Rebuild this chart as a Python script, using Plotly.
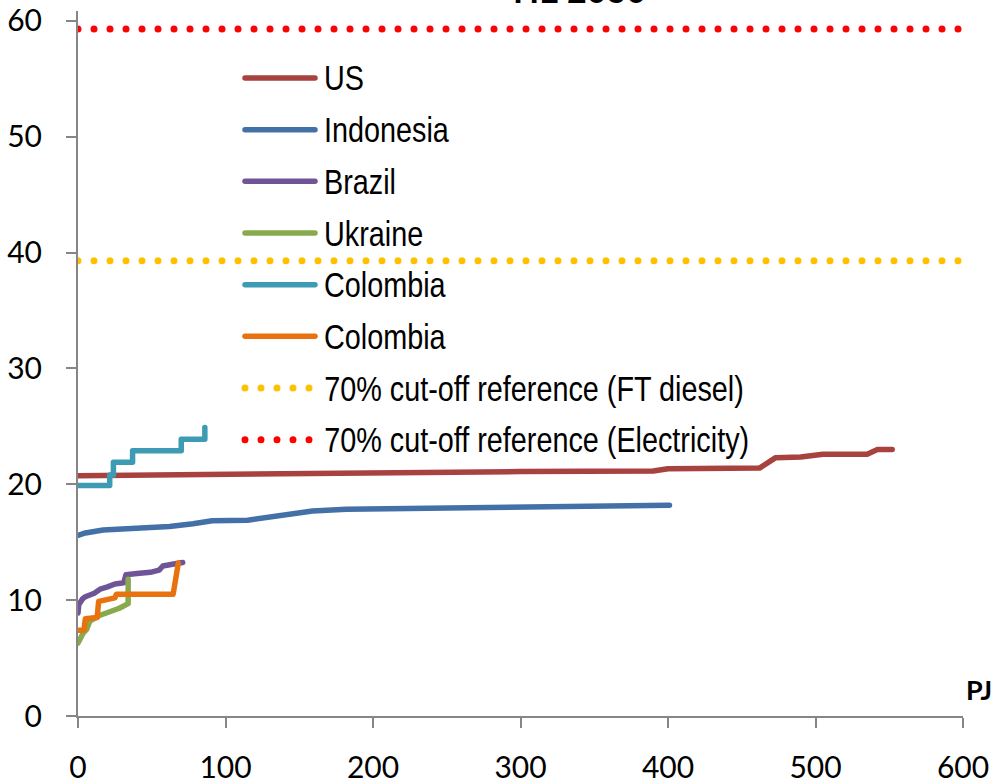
import plotly.graph_objects as go

# Cost-supply curves (x: cumulative supply in PJ, y: cost)
us_x = [0, 40, 120, 200, 300, 390, 400, 462, 473, 490, 505, 535, 542, 552]
us_y = [20.75, 20.8, 20.95, 21.05, 21.1, 21.15, 21.35, 21.4, 22.3, 22.35, 22.6, 22.6, 23.0, 23.0]

indonesia_x = [0, 5, 17, 40, 62, 78, 91, 115, 137, 159, 182, 200, 266, 304, 349, 401]
indonesia_y = [15.6, 15.8, 16.05, 16.2, 16.35, 16.6, 16.85, 16.9, 17.25, 17.7, 17.85, 17.88,
               17.9, 18.05, 18.1, 18.2]

brazil_x = [0, 0.5, 3, 5, 11, 15, 20, 25, 31, 32.5, 40, 49, 55, 57.5, 64, 71]
brazil_y = [8.9, 9.6, 10.1, 10.3, 10.6, 10.95, 11.15, 11.4, 11.5, 12.2, 12.3, 12.4, 12.6,
            12.95, 13.1, 13.25]

ukraine_x = [0, 1, 3.5, 6, 8, 15, 22, 28, 34, 34]
ukraine_y = [6.3, 6.6, 7.15, 7.5, 8.2, 8.7, 9.0, 9.3, 9.7, 11.8]

colombia1_x = [0, 21.5, 24, 37, 70, 86]
colombia1_y = [19.9, 20.8, 21.9, 22.9, 23.9, 24.9]

colombia2_x = [0, 4, 5, 13, 14, 17, 25, 26, 64.5, 68]
colombia2_y = [7.4, 7.4, 8.4, 8.5, 9.9, 10.0, 10.2, 10.5, 10.5, 13.2]

cutoff_x = [0, 600]
cutoff_ft_diesel = 39.3
cutoff_electricity = 59.3

series = [
    ("US", us_x, us_y, "#A8423F", "linear"),
    ("Indonesia", indonesia_x, indonesia_y, "#4470A8", "linear"),
    ("Brazil", brazil_x, brazil_y, "#6F5597", "linear"),
    ("Ukraine", ukraine_x, ukraine_y, "#88A94C", "linear"),
    ("Colombia", colombia1_x, colombia1_y, "#3D9BB4", "hv"),
    ("Colombia", colombia2_x, colombia2_y, "#E8730E", "linear"),
]
references = [
    ("70% cut-off reference (FT diesel)", cutoff_ft_diesel, "#FFC000"),
    ("70% cut-off reference (Electricity)", cutoff_electricity, "#FF0000"),
]

DOTS = "0px,16px"
fig = go.Figure()

for name, xs, ys, color, shape in series:
    fig.add_trace(go.Scatter(x=xs, y=ys, mode="lines", name=name, showlegend=False,
                             line=dict(color=color, width=5.5, shape=shape)))

for name, val, color in references:
    fig.add_trace(go.Scatter(x=cutoff_x, y=[val, val], mode="lines", name=name,
                             showlegend=False,
                             line=dict(color=color, width=7, dash=DOTS)))

# Hand-built legend: long line samples with labels to their right
leg_x0, leg_x1, leg_tx = 0.1887, 0.2678, 0.2757
leg_y0, leg_dy = 0.905, 0.0733
legend_items = [(n, c, "solid") for n, _, _, c, _ in series] + \
               [(n, c, DOTS) for n, _, c in references]
for i, (name, color, dash) in enumerate(legend_items):
    yy = leg_y0 - i * leg_dy
    wide = 7 if dash == DOTS else 5.5
    fig.add_shape(type="line", xref="paper", yref="paper", x0=leg_x0, x1=leg_x1,
                  y0=yy, y1=yy, line=dict(color=color, width=wide, dash=dash))
    fig.add_annotation(x=leg_tx, y=yy, xref="paper", yref="paper", text=name,
                       showarrow=False, xanchor="left", yanchor="middle",
                       font=dict(family="Liberation Sans", size=36, color="#000000"))
n_legend = len(legend_items)

fig.add_annotation(x=0.567, y=0.998, xref="paper", yref="paper", text="<b>HE 2030</b>",
                   showarrow=False, xanchor="center", yanchor="bottom",
                   font=dict(family="Lato", size=34, color="#000000"))
fig.add_annotation(x=1.018, y=0.037, xref="paper", yref="paper", text="<b>PJ</b>",
                   showarrow=False, xanchor="center", yanchor="middle",
                   font=dict(family="Lato", size=27, color="#000000"))

axis_style = dict(showgrid=False, zeroline=False, showline=True, linecolor="#868686",
                  linewidth=2, ticks="outside", ticklen=10, tickwidth=2, automargin=False,
                  tickcolor="#868686", tickfont=dict(family="Lato", size=30, color="#000000"))

fig.update_xaxes(range=[0, 600], dtick=100, tick0=0, ticklabelstandoff=14, **axis_style)
fig.update_yaxes(range=[0, 60.86], dtick=10, tick0=0, ticklabelstandoff=18, **axis_style)

fig.update_layout(width=1000, height=784, plot_bgcolor="white", paper_bgcolor="white",
                  margin=dict(l=78, r=37, t=11, b=68), showlegend=False)

# Round line ends, and a narrow (horizontally condensed) face for the legend labels
legend_sel = ", ".join('.annotation[data-index="%d"] text' % i for i in range(n_legend))
page_css = """
var s = document.createElement('style');
s.textContent = '.scatterlayer path.js-line, .shapelayer path {stroke-linecap: round; stroke-linejoin: round;} ' +
  '%s {transform-box: fill-box; transform-origin: left center; transform: scaleX(0.8);}';
document.head.appendChild(s);
""" % legend_sel
fig.write_html("out.html", post_script=page_css)
